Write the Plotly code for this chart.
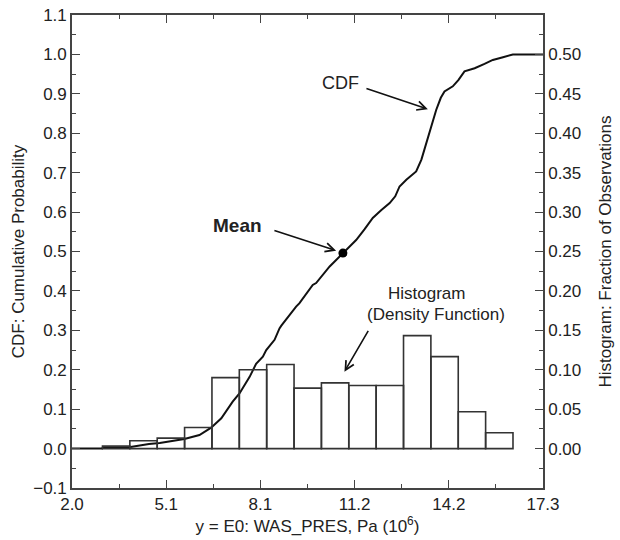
import plotly.graph_objects as go

# ---- data ----
hist_bin_start = 2.99
hist_bin_width = 0.889
hist_fraction = [0.0033, 0.0100, 0.0133, 0.0267, 0.0900, 0.1000, 0.1067, 0.0767,
                 0.0833, 0.0800, 0.0800, 0.1433, 0.1167, 0.0467, 0.0200]

cdf_x = [2.00, 2.98, 3.00, 3.90, 4.10, 4.50, 4.85, 5.17, 5.65, 6.14, 6.52, 6.85,
         7.22, 7.44, 7.77, 7.98, 8.20, 8.31, 8.58, 8.74, 8.80, 9.28, 9.39, 9.82,
         9.93, 10.37, 10.47, 10.80, 11.23, 11.50, 11.77, 12.05, 12.32, 12.50,
         12.64, 12.86, 13.18, 13.35, 13.51, 13.67, 13.83, 13.98, 14.10, 14.37,
         14.55, 14.75, 15.08, 15.40, 15.67, 16.00, 16.32, 17.30]
cdf_y = [0.000, 0.000, 0.0033, 0.0040, 0.0067, 0.0117, 0.0140, 0.0175, 0.0244,
         0.0345, 0.053, 0.077, 0.119, 0.140, 0.182, 0.215, 0.233, 0.250, 0.276,
         0.305, 0.312, 0.360, 0.369, 0.415, 0.420, 0.462, 0.470, 0.496, 0.529,
         0.556, 0.585, 0.605, 0.623, 0.640, 0.665, 0.682, 0.703, 0.733, 0.775,
         0.817, 0.859, 0.890, 0.906, 0.919, 0.935, 0.957, 0.965, 0.976, 0.986,
         0.993, 1.000, 1.000]

mean_x = 10.80
mean_cdf = 0.496

x_tickvals = [2.0, 5.06, 8.12, 11.18, 14.24, 17.3]
x_ticktext = ["2.0", "5.1", "8.1", "11.2", "14.2", "17.3"]

hist_centers = [hist_bin_start + hist_bin_width * (i + 0.5) for i in range(len(hist_fraction))]

FONT = "Liberation Sans, Arial, Helvetica, sans-serif"
TXT = "#222222"
LINE = "#444444"
FS = 17

fig = go.Figure()

fig.add_trace(go.Bar(
    x=hist_centers, y=hist_fraction, width=hist_bin_width, yaxis="y2",
    marker=dict(color="rgba(255,255,255,0)", line=dict(color="#333333", width=1.6)),
    showlegend=False, hoverinfo="skip"))

fig.add_trace(go.Scatter(
    x=cdf_x, y=cdf_y, mode="lines", line=dict(color="#111111", width=2),
    showlegend=False))

fig.add_trace(go.Scatter(
    x=[mean_x], y=[mean_cdf], mode="markers",
    marker=dict(color="#000000", size=9), showlegend=False))

tickfont = dict(family=FONT, size=FS, color=TXT)

fig.update_layout(
    width=620, height=540,
    margin=dict(l=72, r=77, t=15, b=52),
    paper_bgcolor="white", plot_bgcolor="white",
    font=dict(family=FONT, size=FS, color=TXT),
    barmode="overlay",
    xaxis=dict(
        range=[2.0, 17.3], tickmode="array", tickvals=x_tickvals, ticktext=x_ticktext,
        ticks="inside", ticklen=8, tickwidth=1.3, tickcolor=LINE, automargin=False,
        minor=dict(tick0=2.0, dtick=1.53, ticks="inside", ticklen=4, tickcolor=LINE, tickwidth=1.2),
        showline=True, linecolor=LINE, linewidth=1.6, mirror="ticks",
        showgrid=False, zeroline=False, tickfont=tickfont,
        title=dict(text="y = E0: WAS_PRES, Pa (10<sup>6</sup>)", standoff=0,
                   font=dict(family=FONT, size=FS, color=TXT))),
    yaxis=dict(
        range=[-0.1, 1.1], tickmode="array",
        tickvals=[round(-0.1 + 0.1 * i, 1) for i in range(13)],
        tickformat=".1f", automargin=False,
        ticks="inside", ticklen=8, tickwidth=1.3, tickcolor=LINE,
        minor=dict(tickvals=[round(-0.05 + 0.1 * i, 2) for i in range(12)],
                   ticks="inside", ticklen=4, tickcolor=LINE, tickwidth=1.2),
        showline=True, linecolor=LINE, linewidth=1.6, mirror=True,
        showgrid=False, zeroline=False, tickfont=tickfont,
        title=dict(text="CDF: Cumulative Probability", standoff=4,
                   font=dict(family=FONT, size=FS, color=TXT))),
    yaxis2=dict(
        range=[-0.05, 0.55], overlaying="y", side="right", tickmode="array",
        tickvals=[round(0.05 * i, 2) for i in range(11)], tickformat=".2f",
        ticks="inside", ticklen=8, tickwidth=1.3, tickcolor=LINE, automargin=False,
        minor=dict(tickvals=[round(-0.025 + 0.05 * i, 3) for i in range(12)],
                   ticks="inside", ticklen=4, tickcolor=LINE, tickwidth=1.2),
        showline=True, linecolor=LINE, linewidth=1.6,
        showgrid=False, zeroline=False, tickfont=tickfont,
        title=dict(text="Histogram: Fraction of Observations", standoff=19,
                   font=dict(family=FONT, size=FS, color=TXT))),
)

arrow_style = dict(showarrow=True, arrowhead=5, arrowsize=1.1, arrowwidth=1.6,
                   arrowcolor="#111111", axref="x", ayref="y", xref="x", yref="y", text=" ",
                   font=dict(size=2))

# text labels
fig.add_annotation(x=10.72, y=0.928, xref="x", yref="y", text="CDF", showarrow=False,
                   font=dict(family=FONT, size=18, color=TXT))
fig.add_annotation(x=7.36, y=0.567, xref="x", yref="y", text="<b>Mean</b>", showarrow=False,
                   font=dict(family=FONT, size=19, color=TXT))
fig.add_annotation(x=13.52, y=0.394, xref="x", yref="y", text="Histogram", showarrow=False,
                   font=dict(family=FONT, size=FS, color=TXT))
fig.add_annotation(x=13.84, y=0.339, xref="x", yref="y", text="(Density Function)", showarrow=False,
                   font=dict(family=FONT, size=FS, color=TXT))

# arrows
fig.add_annotation(x=13.56, y=0.861, ax=11.50, ay=0.915, **arrow_style)
fig.add_annotation(x=10.58, y=0.502, ax=8.51, ay=0.555, **arrow_style)
fig.add_annotation(x=10.85, y=0.195, ax=11.67, ay=0.305, **arrow_style)

fig.write_html("out.html")
